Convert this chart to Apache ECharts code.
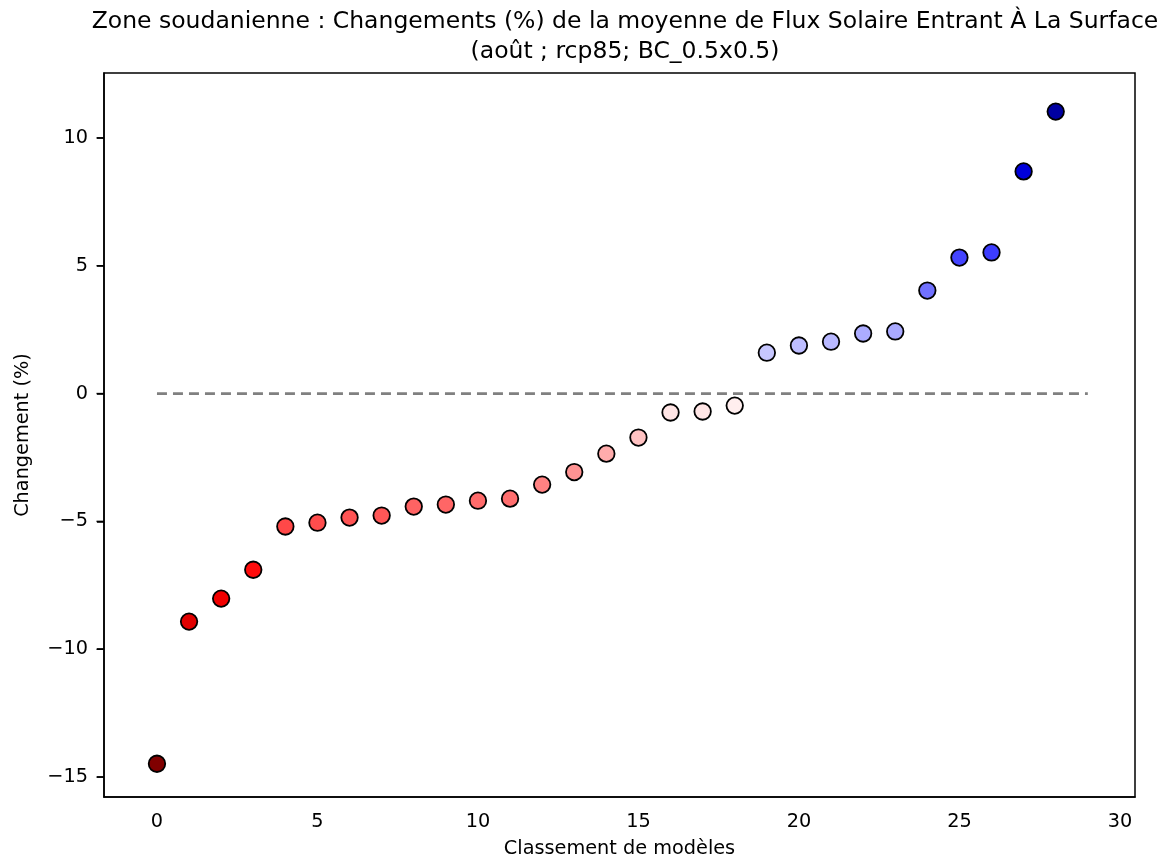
<!DOCTYPE html>
<html>
<head>
<meta charset="utf-8">
<script src="https://cdn.jsdelivr.net/npm/echarts@6/dist/echarts.min.js"></script>
<style>
  html, body { margin: 0; padding: 0; background: #fff; }
  #chart { width: 1166px; height: 861px; }
</style>
</head>
<body>
<div id="chart"></div>
<script>
const ranks = [0, 1, 2, 3, 4, 5, 6, 7, 8, 9, 10, 11, 12, 13, 14, 15, 16, 17, 18, 19, 20, 21, 22, 23, 24, 25, 26, 27, 28];
const changes = [-14.48, -8.92, -8.02, -6.89, -5.20, -5.05, -4.85, -4.77, -4.42, -4.34, -4.19, -4.11, -3.56, -3.07,
  -2.35, -1.72, -0.74, -0.70, -0.47, 1.60, 1.88, 2.03, 2.35, 2.43, 4.03, 5.32, 5.52, 8.69, 11.03];
const refX = [0, 29];
const refY = [0, 0];
const xTicks = [0, 5, 10, 15, 20, 25, 30];
const yTicks = [-15, -10, -5, 0, 5, 10];

const xMin = -1.65, xMax = 30.47;
const yMin = -15.78, yMax = 12.54;

// seismic_r colormap, symmetric around 0
const vmax = Math.max(...changes.map(Math.abs));
function seismicR(v) {
  let t = 1 - (v / vmax + 1) / 2; // position in seismic
  t = Math.max(0, Math.min(1, t));
  const stops = [[0, [0, 0, 0.3]], [0.25, [0, 0, 1]], [0.5, [1, 1, 1]], [0.75, [1, 0, 0]], [1, [0.5, 0, 0]]];
  for (let i = 0; i < stops.length - 1; i++) {
    const [a, ca] = stops[i];
    const [b, cb] = stops[i + 1];
    if (t <= b) {
      const f = (t - a) / (b - a);
      const c = ca.map((x, k) => Math.round(255 * (x + (cb[k] - x) * f)));
      return 'rgb(' + c.join(',') + ')';
    }
  }
  return 'rgb(128,0,0)';
}

const font = 'DejaVu Sans';
const chart = echarts.init(document.getElementById('chart'));
chart.setOption({
  animation: false,
  backgroundColor: '#fff',
  title: {
    text: 'Zone soudanienne : Changements (%) de la moyenne de Flux Solaire Entrant À La Surface\n(août ; rcp85; BC_0.5x0.5)',
    left: 620,
    top: 2,
    textAlign: 'center',
    textStyle: { fontFamily: font, fontSize: 23.5, fontWeight: 'normal', color: '#000', lineHeight: 30 }
  },
  grid: {
    left: 104, right: 31, top: 73, bottom: 64,
    outerBoundsMode: 'none',
    containLabel: false,
    show: true, borderColor: '#000', borderWidth: 1.5, backgroundColor: 'transparent'
  },
  xAxis: {
    type: 'value',
    min: xMin, max: xMax,
    name: 'Classement de modèles',
    nameLocation: 'middle',
    nameGap: 42,
    nameTextStyle: { fontFamily: font, fontSize: 19.3, color: '#000' },
    axisLine: { show: true, onZero: false, lineStyle: { color: '#000', width: 1.5 } },
    axisTick: { show: false },
    splitLine: { show: false },
    axisLabel: {
      customValues: xTicks,
      fontFamily: font, fontSize: 19.3, color: '#000', margin: 15
    }
  },
  yAxis: {
    type: 'value',
    min: yMin, max: yMax,
    name: 'Changement (%)',
    nameLocation: 'middle',
    nameGap: 72,
    nameTextStyle: { fontFamily: font, fontSize: 19.3, color: '#000' },
    axisLine: { show: true, onZero: false, lineStyle: { color: '#000', width: 1.5 } },
    axisTick: { show: true, inside: false, customValues: yTicks, length: 7, lineStyle: { color: '#000', width: 1.5 } },
    splitLine: { show: false },
    axisLabel: {
      customValues: yTicks,
      fontFamily: font, fontSize: 19.3, color: '#000', margin: 16,
      formatter: (v) => (v < 0 ? '\u2212' + Math.abs(v) : String(v))
    }
  },
  series: [
    {
      // y tick marks, placed through the axis scale
      type: 'custom',
      clip: false,
      silent: true,
      z: 10,
      data: yTicks.map((v) => [xMin, v]),
      encode: { x: 0, y: 1 },
      renderItem: (params, api) => {
        const p = api.coord([api.value(0), api.value(1)]);
        return {
          type: 'rect',
          shape: { x: p[0] - 7.5, y: p[1] - 0.75, width: 7.5, height: 1.5 },
          style: { fill: '#000' }
        };
      }
    },
    {
      type: 'line',
      data: refX.map((x, i) => [x, refY[i]]),
      symbol: 'none',
      z: 1,
      lineStyle: { color: '#808080', width: 2.6, type: [10, 6] }
    },
    {
      type: 'scatter',
      data: ranks.map((r, i) => [r, changes[i]]),
      symbolSize: 16.5,
      z: 3,
      itemStyle: {
        color: (p) => seismicR(p.value[1]),
        borderColor: '#000',
        borderWidth: 1.8,
        opacity: 1
      }
    }
  ]
});
</script>
</body>
</html>
